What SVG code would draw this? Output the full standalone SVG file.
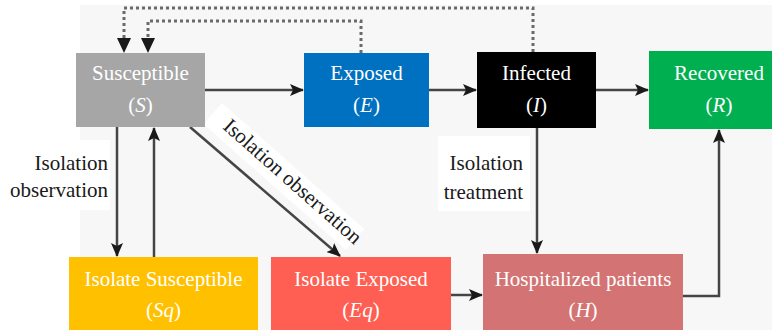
<svg xmlns="http://www.w3.org/2000/svg" width="772" height="330" viewBox="0 0 772 330" font-family="'Liberation Serif', 'DejaVu Serif', serif" font-size="21">
<defs>
<style>
.lbl{fill:#1a1a1a}
.nt{fill:#ffffff;text-anchor:middle}
.it{font-style:italic}
.ln{stroke:#454545;stroke-width:2.5;fill:none}
.dt{stroke:#6a6a6a;stroke-width:3;fill:none;stroke-dasharray:3 3}
</style>
<marker id="ah" viewBox="0 0 14 12" refX="13" refY="6" markerWidth="14" markerHeight="12" markerUnits="userSpaceOnUse" orient="auto">
<path d="M0,0 L14,6 L0,12 L3,6 Z" fill="#1a1a1a"/>
</marker>
</defs>
<rect x="0" y="0" width="772" height="330" fill="#ffffff"/>
<rect x="80" y="5" width="692" height="325" fill="#f7f7f7"/>
<rect x="6" y="140" width="104" height="70" fill="#ffffff"/>
<rect x="438" y="136" width="92" height="75" fill="#ffffff"/>
<rect x="0" y="0" width="190" height="28" fill="#ffffff" transform="translate(222,103) rotate(41.5)"/>

<g id="connectors">
<line class="ln" x1="205" y1="90" x2="303" y2="90" marker-end="url(#ah)"/>
<line class="ln" x1="429" y1="90" x2="476" y2="90" marker-end="url(#ah)"/>
<line class="ln" x1="596" y1="90" x2="648" y2="90" marker-end="url(#ah)"/>
<line class="ln" x1="117" y1="127" x2="117" y2="256" marker-end="url(#ah)"/>
<line class="ln" x1="154" y1="257" x2="154" y2="128" marker-end="url(#ah)"/>
<line class="ln" x1="190" y1="127" x2="340" y2="256" marker-end="url(#ah)"/>
<line class="ln" x1="451" y1="295" x2="482" y2="295" marker-end="url(#ah)"/>
<line class="ln" x1="537" y1="128" x2="537" y2="253" marker-end="url(#ah)"/>
<polyline class="ln" points="683,296 719,296 719,130" marker-end="url(#ah)"/>
<polyline class="dt" points="533,52 533,8 124,8 124,40"/>
<polyline class="dt" points="361,53 361,21 148,21 148,40"/>
<path d="M117,38 L131,38 L124,53 Z" fill="#1a1a1a"/>
<path d="M141,38 L155,38 L148,53 Z" fill="#1a1a1a"/>
</g>

<g id="S">
<rect x="76" y="53" width="129" height="74" fill="#a6a6a6"/>
<text class="nt" x="140.5" y="80">Susceptible</text>
<text class="nt" x="140.5" y="112">(<tspan class="it">S</tspan>)</text>
</g>
<g id="E">
<rect x="304" y="53" width="125" height="74" fill="#0070c0"/>
<text class="nt" x="366.5" y="80">Exposed</text>
<text class="nt" x="366.5" y="112">(<tspan class="it">E</tspan>)</text>
</g>
<g id="I">
<rect x="477" y="52" width="119" height="76" fill="#000000"/>
<text class="nt" x="536.5" y="80">Infected</text>
<text class="nt" x="536.5" y="112">(<tspan class="it">I</tspan>)</text>
</g>
<g id="R">
<rect x="649" y="51" width="123" height="78" fill="#00b050"/>
<text class="nt" x="719" y="80">Recovered</text>
<text class="nt" x="719" y="112">(<tspan class="it">R</tspan>)</text>
</g>
<g id="Sq">
<rect x="69" y="257" width="189" height="73" fill="#ffc000"/>
<text class="nt" x="163.5" y="286">Isolate Susceptible</text>
<text class="nt" x="163.5" y="317">(<tspan class="it">Sq</tspan>)</text>
</g>
<g id="Eq">
<rect x="271" y="257" width="180" height="73" fill="#ff5f52"/>
<text class="nt" x="361" y="286">Isolate Exposed</text>
<text class="nt" x="361" y="317">(<tspan class="it">Eq</tspan>)</text>
</g>
<g id="H">
<rect x="483" y="254" width="200" height="76" fill="#d47373"/>
<text class="nt" x="583" y="286">Hospitalized patients</text>
<text class="nt" x="583" y="317">(<tspan class="it">H</tspan>)</text>
</g>

<g id="labels">
<text class="lbl" x="108" y="170" text-anchor="end">Isolation</text>
<text class="lbl" x="108" y="197" text-anchor="end">observation</text>
<text class="lbl" x="523" y="170" text-anchor="end">Isolation</text>
<text class="lbl" x="523" y="199" text-anchor="end">treatment</text>
<text class="lbl" transform="translate(222,128) rotate(41.5)">Isolation observation</text>
</g>
</svg>
